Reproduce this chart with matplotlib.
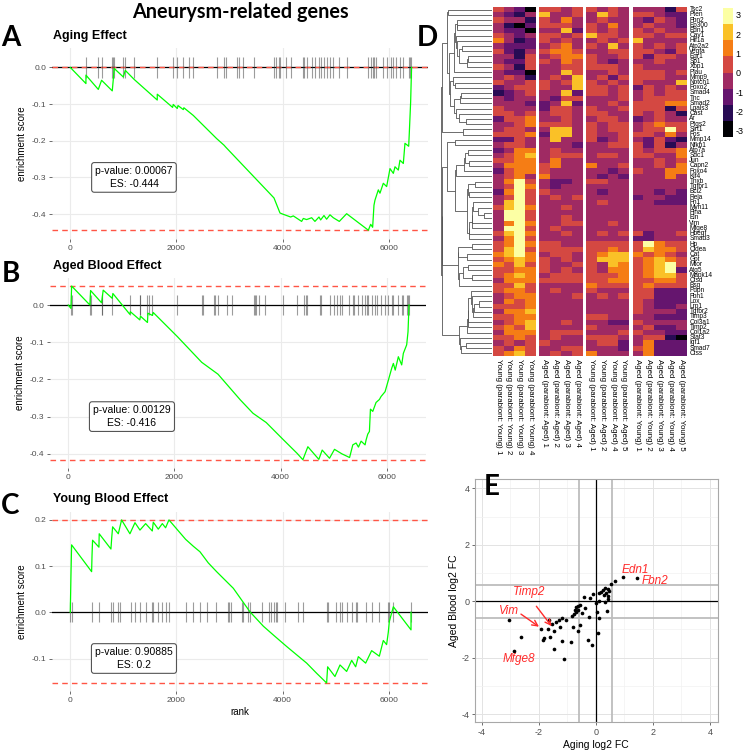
import numpy as np
import matplotlib
matplotlib.use('Agg')
import matplotlib.pyplot as plt
from matplotlib.colors import ListedColormap

plt.rcParams['font.family'] = ['Liberation Sans', 'DejaVu Sans']
plt.rcParams['axes.unicode_minus'] = False

# ---------------- GSEA running scores ----------------
aging_rank = [0, 295, 295, 528, 590, 791, 829, 999, 1036, 1206, 1639, 1639, 1928, 1940, 2016, 2030,
              2129, 2140, 2318, 2757, 2896, 2933, 3838, 3951, 4001, 4152, 4202, 4359, 4391, 4453,
              4548, 4610, 4686, 4717, 4780, 4830, 4893, 4956, 5069, 5207, 5616, 5660, 5697, 5722,
              5741, 5804, 5835, 5898, 5961, 6024, 6087, 6118, 6181, 6212, 6275, 6306, 6376, 6388,
              6413, 6430]
aging_es = [0.0, -0.044, -0.021, -0.060, -0.035, -0.064, -0.003, -0.026, -0.008, -0.033, -0.089,
            -0.073, -0.109, -0.101, -0.112, -0.104, -0.115, -0.110, -0.131, -0.194, -0.212, -0.218,
            -0.356, -0.397, -0.400, -0.408, -0.405, -0.420, -0.412, -0.415, -0.410, -0.420, -0.408,
            -0.416, -0.404, -0.414, -0.402, -0.410, -0.420, -0.399, -0.444, -0.428, -0.436, -0.376,
            -0.362, -0.334, -0.343, -0.316, -0.325, -0.276, -0.289, -0.271, -0.280, -0.253, -0.262,
            -0.207, -0.215, -0.178, -0.094, 0.0]
aging_hits = [295, 528, 590, 791, 810, 829, 999, 1036, 1206, 1639, 1928, 2016, 2129, 2230, 2318,
              2757, 2896, 2933, 3147, 3185, 3260, 3467, 3838, 3875, 3926, 3951, 4064, 4152, 4391,
              4410, 4453, 4548, 4610, 4686, 4717, 4780, 4830, 4893, 4943, 5069, 5207, 5616, 5660,
              5697, 5722, 5760, 5886, 5961, 6036, 6087, 6137, 6212, 6275, 6376, 6401, 6420]

aged_rank = [0, 50, 63, 408, 420, 627, 658, 828, 840, 1160, 1170, 1348, 1360, 1492, 1500, 1586,
             1600, 2056, 2514, 2821, 3241, 3480, 3730, 4044, 4313, 4420, 4514, 4721, 4784, 4922,
             5016, 5154, 5300, 5361, 5423, 5467, 5517, 5592, 5611, 5643, 5674, 5693, 5737, 5799,
             5862, 5893, 5969, 6031, 6094, 6125, 6160, 6219, 6282, 6313, 6376, 6401, 6413, 6420]
aged_es = [0.0, -0.009, 0.051, 0.0, 0.039, 0.006, 0.040, 0.018, 0.031, -0.025, -0.018, -0.040,
           -0.030, -0.047, -0.022, -0.028, -0.020, -0.085, -0.154, -0.186, -0.255, -0.291, -0.316,
           -0.361, -0.399, -0.416, -0.381, -0.415, -0.390, -0.412, -0.388, -0.400, -0.410, -0.376,
           -0.371, -0.382, -0.366, -0.376, -0.363, -0.347, -0.340, -0.280, -0.286, -0.262, -0.254,
           -0.246, -0.233, -0.202, -0.170, -0.157, -0.175, -0.139, -0.161, -0.130, -0.107, -0.072,
           -0.027, 0.0]
aged_hits = [50, 63, 408, 420, 627, 640, 828, 1160, 1348, 1360, 1492, 1517, 1586, 2056, 2514, 2532,
             2740, 2770, 2821, 2997, 3085, 3498, 3520, 3542, 3586, 3712, 4044, 4313, 4439, 4470,
             4490, 4746, 4765, 4940, 5003, 5060, 5122, 5154, 5298, 5361, 5392, 5467, 5530, 5592,
             5630, 5655, 5718, 5781, 5818, 5893, 5969, 6031, 6094, 6125, 6219, 6282, 6313, 6376,
             6401, 6420]

young_rank = [0, 13, 25, 402, 410, 420, 540, 545, 766, 780, 798, 905, 967, 1124, 1219, 1313, 1420,
              1545, 1564, 1658, 1734, 1796, 1859, 2173, 2318, 2444, 2600, 2757, 3072, 3386, 3637,
              3825, 4077, 4265, 4454, 4642, 4830, 4849, 4987, 5082, 5207, 5302, 5377, 5427, 5565,
              5678, 5823, 5898, 5960, 5992, 6011, 6087, 6420, 6420]
young_es = [0.0, 0.081, 0.146, 0.088, 0.124, 0.156, 0.141, 0.170, 0.137, 0.160, 0.185, 0.170, 0.200,
            0.170, 0.194, 0.178, 0.192, 0.176, 0.195, 0.180, 0.192, 0.183, 0.200, 0.158, 0.143,
            0.131, 0.107, 0.088, 0.052, 0.001, -0.030, -0.049, -0.074, -0.092, -0.110, -0.132,
            -0.153, -0.118, -0.139, -0.114, -0.128, -0.104, -0.118, -0.096, -0.110, -0.083, -0.095,
            -0.061, -0.070, -0.043, -0.020, 0.012, -0.038, 0.0]
young_hits = [0, 25, 402, 540, 766, 798, 905, 936, 1143, 1219, 1313, 1420, 1545, 1564, 1658, 1734,
              1796, 1859, 2173, 2318, 2444, 2569, 2739, 2965, 2990, 3028, 3229, 3260, 3354, 3386,
              3618, 3744, 3775, 3838, 3876, 3901, 4045, 4284, 4391, 4830, 4849, 5000, 5082, 5113,
              5207, 5302, 5377, 5408, 5565, 5678, 5823, 5992, 6011, 6087, 6420]

# ---------------- heatmap (cell colour bins 0..7) ----------------
genes = ['Tsc2', 'Pten', 'Fbn2', 'Ep300', 'Edn1', 'Cav1', 'Hif1a', 'Atp2a2', 'Vegfa', 'Egr1', 'Sp1',
         'Xbp1', 'Plau', 'Mmp9', 'Notch1', 'Foxo2', 'Smad4', 'Tnc', 'Smad2', 'Lgals3', 'Cast', 'Ar',
         'Ptgs2', 'Sirt1', 'Fos', 'Mmp14', 'Nfkb1', 'Atp7a', 'Sdc1', 'Jun', 'Capn2', 'Foxo4', 'Klf4',
         'Tnxb', 'Tgfbr1', 'Bcl2', 'Rela', 'Fn1', 'Myh11', 'Flna', 'Eln', 'Vim', 'Mfge8', 'Hbegf',
         'Smad3', 'Hp', 'Cidea', 'Cat', 'Gpt', 'Mtor', 'Atg5', 'Mapk14', 'Ctsd', 'Bsg', 'Pdpn',
         'Fbn1', 'Lox', 'Lrp1', 'Tgfbr2', 'Timp3', 'Col3a1', 'Timp2', 'Col1a2', 'Stat3', 'Igf1',
         'Smad7', 'Ctss']
samples = ['Young (parabiont: Young) 1', 'Young (parabiont: Young) 2', 'Young (parabiont: Young) 3',
           'Young (parabiont: Young) 4', 'Aged (parabiont: Aged) 1', 'Aged (parabiont: Aged) 2',
           'Aged (parabiont: Aged) 3', 'Aged (parabiont: Aged) 4', 'Young (parabiont: Aged) 1',
           'Young (parabiont: Aged) 2', 'Young (parabiont: Aged) 4', 'Young (parabiont: Aged) 5',
           'Aged (parabiont: Young) 1', 'Aged (parabiont: Young) 2', 'Aged (parabiont: Young) 3',
           'Aged (parabiont: Young) 4', 'Aged (parabiont: Young) 5']
group_sizes = [4, 4, 4, 5]
hm_rows = [
    '4320 4434 4343 33314', '3213 6334 3643 44322', '4331 4353 3433 32432', '3102 4443 4353 34332',
    '3220 3362 4343 43433', '4323 4434 6443 44344', '5312 4343 3434 63333', '3222 3453 4363 43434',
    '4213 4554 3344 44324', '3314 3455 4334 42443', '3224 4354 4323 33433', '4314 3344 4443 43333',
    '3220 3364 3343 44434', '3431 3436 3424 44433', '4334 4346 4343 43336', '2344 4336 4434 24343',
    '1234 3362 4434 34344', '3233 3244 3334 34444', '3332 2362 3343 44455', '4333 2443 4334 44414',
    '4434 3443 4433 43431', '2445 3343 3443 23433', '3345 4443 4344 34544', '3443 3663 4344 34474',
    '4445 2663 4334 44353', '2243 3633 4234 32421', '3443 3332 3344 42413', '2355 3433 3333 43445',
    '3456 3444 3443 44335', '4455 3533 3333 33434', '3555 4533 5334 33435', '2455 4333 3323 43355',
    '3453 5333 3232 33353', '3574 3223 4433 33333', '3475 3233 3333 33333', '2574 4333 3233 33232',
    '3474 3434 3333 23322', '3674 3333 3433 33222', '4675 3343 3333 33333', '3774 3333 3333 33333',
    '3774 3343 3333 33333', '3575 3344 3343 33333', '3774 3433 3333 33333', '4675 3343 3434 42334',
    '3574 3333 3333 22333', '4575 4433 4444 47544', '4674 4444 4454 46554', '5675 3443 4566 54543',
    '4565 4343 4666 45654', '5464 4334 4365 45674', '4455 4343 4355 45672', '4565 3444 4445 45664',
    '3555 4444 4455 44554', '4464 3333 5444 45444', '4554 3433 4333 44222', '3455 3334 3434 44222',
    '3545 3333 3333 43222', '4445 3333 3333 43223', '3556 3333 3333 43332', '4455 3333 4433 33222',
    '3456 3343 3322 43333', '4546 3333 4333 34223', '3555 3444 3334 43322', '4454 3433 4443 34410',
    '3434 4333 3442 35222', '4354 3344 3332 45222', '4564 3434 5333 35222']
hm_colors = ['#000004', '#280B54', '#65156E', '#9F2A63', '#D44842', '#F57D15', '#FAC127', '#FCFFA4']
legend_ticks = [3, 2, 1, 0, -1, -2, -3]

# ---------------- scatter E ----------------
aging_fc = [0.97, 1.43, 0.66, 0.54, 0.34, 0.42, 0.27, 0.48, 0.19, 0.13, -0.10, 0.37, 0.28, 0.44,
            -0.40, -0.20, 0.42, 0.10, 0.01, 0.34, -0.61, -0.38, -0.72, -0.69, -0.77, -0.82, -1.18,
            -1.04, -1.30, -1.65, -1.41, -1.54, 0.04, 0.41, -0.22, 0.11, -3.05, -1.92, -1.68, -1.47,
            -0.80, -0.55, -1.24, -1.60, -1.80, -1.86, -2.62, -0.64, 0.07, -0.28, -1.18, -0.86,
            -0.13, -2.88, -1.46, -1.10, -0.55, -0.62, -0.70, -0.48]
blood_fc = [0.87, 0.81, 0.72, 0.61, 0.46, 0.42, 0.38, 0.37, 0.31, 0.28, 0.25, 0.28, 0.22, 0.17,
            0.14, 0.12, 0.07, 0.01, -0.05, -0.01, -0.18, -0.25, -0.30, -0.39, -0.45, -0.53, -0.59,
            -0.68, -0.66, -0.67, -0.72, -0.80, -0.37, -0.33, -0.57, -0.60, -0.66, -0.98, -1.00,
            -1.04, -0.90, -0.86, -0.92, -1.27, -1.31, -1.39, -1.25, -1.06, -1.11, -1.36, -1.42,
            -1.46, -1.56, -1.75, -1.70, -2.05, -0.12, -0.32, -0.22, -0.42]
labels_e = ['Edn1', 'Fbn2', 'Timp2', 'Vim', 'Mfge8']
label_xy = [(1.38, 1.11), (2.06, 0.73), (-2.35, 0.32), (-3.03, -0.33), (-2.71, -2.03)]

W, H = 746, 750
fig = plt.figure(figsize=(W / 100, H / 100), dpi=100)


def px_axes(l, t, r, b):
    return fig.add_axes([l / W, 1 - b / H, (r - l) / W, (b - t) / H])


def gsea_panel(ax, rank, es, hits, tick_half, yticks, ylim, pval, es_txt, box_y, xlab=False):
    ax.set_xlim(-350, 6740)
    ax.set_ylim(*ylim)
    for s in ax.spines.values():
        s.set_visible(False)
    ax.grid(True, color='#EBEBEB', lw=0.8)
    ax.set_axisbelow(True)
    ax.axhline(0, color='black', lw=0.9, zorder=2)
    ax.axhline(max(es), color='#FF5545', ls=(0, (4, 3)), lw=1.0, zorder=2)
    ax.axhline(min(es), color='#FF5545', ls=(0, (4, 3)), lw=1.0, zorder=2)
    ax.vlines(hits, -tick_half, tick_half, color='#3A3A3A', alpha=0.5, lw=0.8, zorder=3)
    ax.plot(rank, es, color='#00FF00', lw=0.9, zorder=4)
    ax.set_xticks([0, 2000, 4000, 6000])
    ax.set_yticks(yticks)
    ax.set_yticklabels(['%.1f' % v for v in yticks])
    ax.tick_params(colors='#555555', labelcolor='#4D4D4D', labelsize=6, length=2, width=0.6, pad=2)
    ax.set_ylabel('enrichment score', fontsize=7, labelpad=3)
    if xlab:
        ax.set_xlabel('rank', fontsize=7, labelpad=2)
    ax.text(1200, box_y, 'p-value: %s\nES: %s' % (pval, es_txt), ha='center', va='center',
            multialignment='center', fontsize=7.5, linespacing=1.3, zorder=5,
            bbox=dict(boxstyle='round,pad=0.35,rounding_size=0.25', fc='white', ec='#555555', lw=0.8))


axA = px_axes(51.7, 48, 428, 239)
gsea_panel(axA, aging_rank, aging_es, aging_hits, 0.028, [0.0, -0.1, -0.2, -0.3, -0.4],
           (-0.468, 0.053), '0.00067', '-0.444', -0.30)
axB = px_axes(49.7, 277.5, 426, 468.3)
gsea_panel(axB, aged_rank, aged_es, aged_hits, 0.028, [0.0, -0.1, -0.2, -0.3, -0.4],
           (-0.439, 0.074), '0.00129', '-0.416', -0.30)
axC = px_axes(51.7, 511.6, 428, 691.3)
gsea_panel(axC, young_rank, young_es, young_hits, 0.022, [0.2, 0.1, 0.0, -0.1],
           (-0.171, 0.218), '0.90885', '0.2', -0.10, xlab=True)

for txt, y in [('Aging Effect', 36), ('Aged Blood Effect', 266), ('Young Blood Effect', 499)]:
    fig.text(53 / W, 1 - y / H, txt, fontsize=9, fontweight='bold', va='center', ha='left')

for txt, x, y in [('A', 11, 38), ('B', 11, 274), ('C', 10, 506), ('D', 427, 38), ('E', 492, 487)]:
    fig.text(x / W, 1 - y / H, txt, fontsize=20, fontweight='bold', family='Lato',
             ha='center', va='center')
fig.text(240 / W, 1 - 12 / H, 'Aneurysm-related genes', fontsize=14.3, fontweight='bold',
         family='Lato', ha='center', va='center')

# ---------------- heatmap D ----------------
levels = np.array([[int(c) for c in r.replace(' ', '')] for r in hm_rows])
n_rows, n_cols = levels.shape
gap = 0.3
col_left = []
x0 = 0.0
for g, size in enumerate(group_sizes):
    for k in range(size):
        col_left.append(x0 + k)
    x0 += size + gap
col_left = np.array(col_left)
x_total = n_cols + gap * (len(group_sizes) - 1)

hm_top, hm_bot = 7, 356
axH = px_axes(492.7, hm_top, 686.7, hm_bot)
cmap = ListedColormap(hm_colors)
for xl, col in zip(col_left, levels.T):
    axH.pcolormesh([xl, xl + 1], np.arange(n_rows + 1), col.reshape(-1, 1), cmap=cmap,
                   vmin=-0.5, vmax=7.5, edgecolors='none')
axH.set_xlim(0, x_total)
axH.set_ylim(n_rows, 0)
axH.axis('off')
for i, g in enumerate(genes):
    axH.text(x_total + 0.25, i + 0.5, g, fontsize=4.7, va='center', ha='left')
for xl, s in zip(col_left, samples):
    axH.text(xl + 0.5, n_rows + 0.6, s, fontsize=5.7, rotation=-90, ha='center', va='top')

# row dendrogram (adjacent merges, average linkage on the displayed order)
dist = np.sqrt(((levels[:, None, :] - levels[None, :, :]) ** 2).sum(-1).astype(float))
clusters = [[i] for i in range(n_rows)]
pos = [i + 0.5 for i in range(n_rows)]
hts = [0.0] * n_rows
segs = []
while len(clusters) > 1:
    dvals = [dist[np.ix_(clusters[k], clusters[k + 1])].mean() for k in range(len(clusters) - 1)]
    k = int(np.argmin(dvals))
    h = max(dvals[k], hts[k], hts[k + 1]) + 0.05
    segs.append(([hts[k], h, h, hts[k + 1]], [pos[k], pos[k], pos[k + 1], pos[k + 1]]))
    clusters[k:k + 2] = [clusters[k] + clusters[k + 1]]
    pos[k:k + 2] = [(pos[k] + pos[k + 1]) / 2]
    hts[k:k + 2] = [h]
axD = px_axes(440.5, hm_top, 492, hm_bot)
for xs, ys in segs:
    axD.plot(xs, ys, color='#555555', lw=0.6, solid_capstyle='butt')
axD.set_xlim(hts[0], 0)
axD.set_ylim(n_rows, 0)
axD.axis('off')

# legend colour bar
bounds = np.linspace(-3.32, 3.36, 9)
axL = px_axes(723, 8, 733, 137)
axL.pcolormesh([0, 1], bounds, np.arange(8).reshape(-1, 1), cmap=cmap, vmin=-0.5, vmax=7.5)
axL.set_ylim(bounds[0], bounds[-1])
axL.set_xlim(0, 1)
for s in axL.spines.values():
    s.set_visible(False)
axL.set_xticks([])
axL.yaxis.tick_right()
axL.set_yticks(legend_ticks)
axL.set_yticklabels([str(t) for t in legend_ticks])
axL.tick_params(axis='y', length=0, labelsize=6.5, pad=2)

# ---------------- scatter E ----------------
axE = px_axes(475, 479.3, 717.7, 722.3)
axE.set_xlim(-4.23, 4.27)
axE.set_ylim(-4.29, 4.32)
axE.set_xticks([-4, -2, 0, 2, 4])
axE.set_yticks([-4, -2, 0, 2, 4])
axE.set_xticks([-3, -1, 1, 3], minor=True)
axE.set_yticks([-3, -1, 1, 3], minor=True)
axE.grid(True, which='major', color='#E3E3E3', lw=0.7)
axE.grid(True, which='minor', color='#F2F2F2', lw=0.5)
axE.set_axisbelow(True)
axE.tick_params(which='minor', length=0)
axE.tick_params(which='major', colors='#555555', labelcolor='#4D4D4D', labelsize=6.5, length=2,
                width=0.6, pad=2)
for s in axE.spines.values():
    s.set_color('#A8A8A8')
    s.set_linewidth(0.8)
for v in (-0.585, 0.585):
    axE.axvline(v, color='#BDBDBD', lw=1.3, zorder=1)
    axE.axhline(v, color='#BDBDBD', lw=1.3, zorder=1)
axE.axvline(0, color='black', lw=0.9, zorder=2)
axE.axhline(0, color='black', lw=0.9, zorder=2)
axE.scatter(aging_fc, blood_fc, s=7, color='black', zorder=3, linewidths=0)
for txt, (tx, ty) in zip(labels_e, label_xy):
    axE.text(tx, ty, txt, color='#FF2A2A', fontsize=8.5, style='italic', ha='center',
             va='center', zorder=4)
axE.annotate('', xy=(-1.49, -0.96), xytext=(-2.14, -0.10),
             arrowprops=dict(arrowstyle='->', color='#FF2A2A', lw=1.0))
axE.annotate('', xy=(-1.91, -0.96), xytext=(-2.70, -0.40),
             arrowprops=dict(arrowstyle='->', color='#FF2A2A', lw=1.0))
axE.set_xlabel('Aging log2 FC', fontsize=7.5, labelpad=2)
axE.set_ylabel('Aged Blood log2 FC', fontsize=7.5, labelpad=2)

fig.savefig('out.png', dpi=100)
